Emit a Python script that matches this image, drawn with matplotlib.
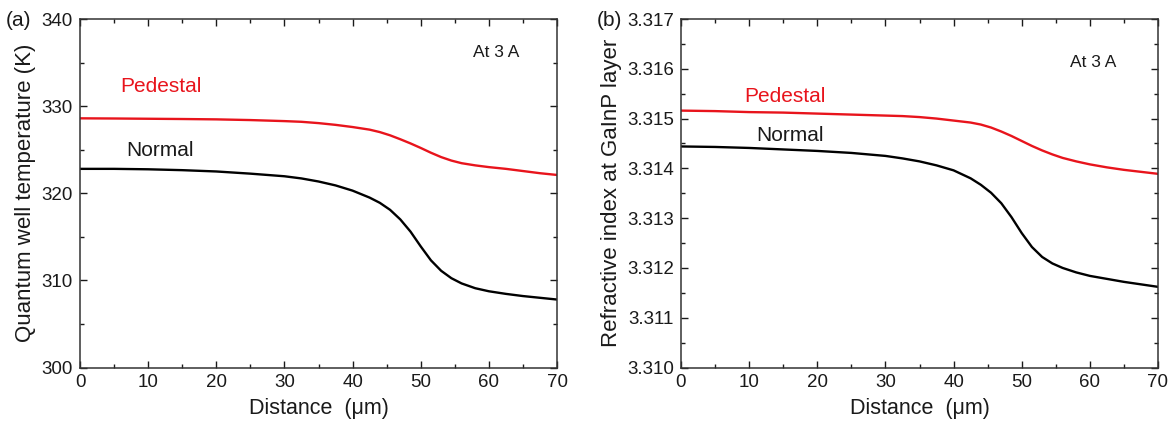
import matplotlib
matplotlib.use('Agg')
import matplotlib.pyplot as plt
from matplotlib.ticker import MultipleLocator, FormatStrFormatter

plt.rcParams['font.family'] = ['Liberation Sans', 'DejaVu Sans']

# Distance along the cavity (um)
dist = [0, 5, 10, 15, 20, 25, 30, 32.5, 35, 37.5, 40, 42.5, 44, 45.5, 47, 48.5, 50,
        51.5, 53, 54.5, 56, 58, 60, 62.5, 65, 67.5, 70]

# (a) quantum well temperature (K)
temp_pedestal = [328.6, 328.58, 328.55, 328.52, 328.48, 328.4, 328.28, 328.2, 328.05, 327.85,
                 327.6, 327.3, 327.02, 326.65, 326.2, 325.72, 325.2, 324.65, 324.15, 323.75,
                 323.45, 323.2, 323.0, 322.8, 322.55, 322.3, 322.1]
temp_normal = [322.8, 322.8, 322.75, 322.65, 322.5, 322.25, 321.95, 321.7, 321.35, 320.9,
               320.3, 319.5, 318.9, 318.1, 317.0, 315.6, 313.9, 312.3, 311.1, 310.25,
               309.65, 309.1, 308.75, 308.45, 308.2, 308.0, 307.8]

# (b) refractive index at GaInP layer
n_pedestal = [3.31516, 3.31515, 3.31513, 3.31512, 3.3151, 3.31508, 3.31506, 3.31505, 3.31503,
              3.315, 3.31496, 3.31492, 3.31488, 3.31482, 3.31474, 3.31465, 3.31455, 3.31445,
              3.31436, 3.31428, 3.31421, 3.31414, 3.31408, 3.31402, 3.31397, 3.31393, 3.31389]
n_normal = [3.31444, 3.31443, 3.31441, 3.31438, 3.31435, 3.31431, 3.31425, 3.3142, 3.31414,
            3.31406, 3.31396, 3.3138, 3.31367, 3.31351, 3.3133, 3.31302, 3.3127, 3.31242,
            3.31222, 3.31209, 3.312, 3.31191, 3.31184, 3.31178, 3.31172, 3.31167, 3.31162]

red = '#e8141c'
ink = '#1a1a1a'

fig = plt.figure(figsize=(11.68, 4.32), dpi=100)
ax1 = fig.add_axes([80 / 1168, 64.5 / 432, 477 / 1168, 348.5 / 432])
ax2 = fig.add_axes([681 / 1168, 64.5 / 432, 477 / 1168, 348.5 / 432])


def style_axes(ax):
    ax.set_xlim(0, 70)
    ax.xaxis.set_major_locator(MultipleLocator(10))
    ax.xaxis.set_minor_locator(MultipleLocator(5))
    ax.tick_params(which='both', direction='in', top=True, right=True,
                   width=1.0, colors=ink, labelsize=13.5, labelcolor=ink)
    ax.tick_params(which='major', length=5, pad=5)
    ax.tick_params(which='minor', length=3)
    for sp in ax.spines.values():
        sp.set_linewidth(1.1)
        sp.set_color('#333333')
    ax.set_xlabel('Distance  (\u03bcm)', fontsize=15.5, color=ink, labelpad=5)


# (a) temperature
ax1.plot(dist, temp_pedestal, color=red, lw=1.7)
ax1.plot(dist, temp_normal, color='black', lw=1.7)
style_axes(ax1)
ax1.set_ylim(300, 340)
ax1.yaxis.set_major_locator(MultipleLocator(10))
ax1.yaxis.set_minor_locator(MultipleLocator(5))
ax1.set_ylabel('Quantum well temperature (K)', fontsize=16, color=ink, labelpad=4)
ax1.text(5.9, 332.2, 'Pedestal', color=red, fontsize=15, va='center')
ax1.text(6.8, 324.9, 'Normal', color=ink, fontsize=15, va='center')
ax1.text(57.6, 336.1, 'At 3 A', color=ink, fontsize=12.5, va='center')
fig.text(6 / 1168, 1 - 21 / 432, '(a)', fontsize=15, color=ink, va='center')

# (b) refractive index
ax2.plot(dist, n_pedestal, color=red, lw=1.7)
ax2.plot(dist, n_normal, color='black', lw=1.7)
style_axes(ax2)
ax2.set_ylim(3.310, 3.317)
ax2.yaxis.set_major_locator(MultipleLocator(0.001))
ax2.yaxis.set_minor_locator(MultipleLocator(0.0005))
ax2.yaxis.set_major_formatter(FormatStrFormatter('%.3f'))
ax2.set_ylabel('Refractive index at GaInP layer', fontsize=16, color=ink, labelpad=4)
ax2.text(9.3, 3.31545, 'Pedestal', color=red, fontsize=15, va='center')
ax2.text(11.0, 3.31466, 'Normal', color=ink, fontsize=15, va='center')
ax2.text(57.1, 3.31612, 'At 3 A', color=ink, fontsize=12.5, va='center')
fig.text(597 / 1168, 1 - 21 / 432, '(b)', fontsize=15, color=ink, va='center')

fig.savefig('out.png', dpi=100, facecolor='white')
